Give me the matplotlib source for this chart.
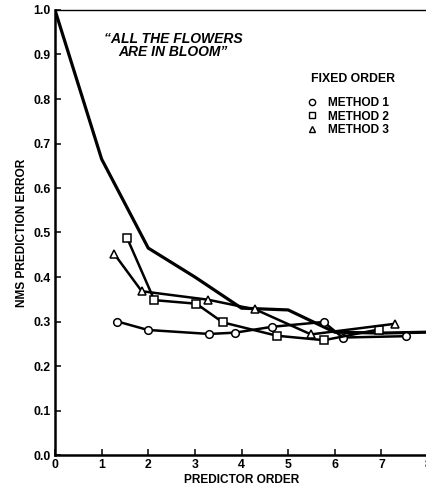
import matplotlib
matplotlib.use("Agg")
import matplotlib.pyplot as plt
from matplotlib.lines import Line2D

plt.rcParams['font.family'] = ['Liberation Sans', 'DejaVu Sans']

# Data
order_fixed = [0, 1, 2, 3, 4, 5, 6, 7, 8]
err_fixed = [1.0, 0.665, 0.465, 0.40, 0.330, 0.326, 0.276, 0.274, 0.276]

m1_x = [1.34, 1.99, 3.31, 3.87, 4.65, 5.76, 6.17, 7.52]
m1_y = [0.300, 0.281, 0.272, 0.275, 0.288, 0.299, 0.264, 0.267]

m2_x = [1.545, 2.13, 3.03, 3.60, 4.76, 5.77, 6.94]
m2_y = [0.488, 0.348, 0.340, 0.298, 0.268, 0.258, 0.282]

m3_x = [1.27, 1.86, 3.28, 4.30, 5.49, 7.30]
m3_y = [0.452, 0.368, 0.349, 0.327, 0.271, 0.295]

xticks = [0, 1, 2, 3, 4, 5, 6, 7, 8]
yticks = [0.0, 0.1, 0.2, 0.3, 0.4, 0.5, 0.6, 0.7, 0.8, 0.9, 1.0]
labels = ["METHOD 1", "METHOD 2", "METHOD 3"]
markers = ["o", "s", "^"]

fig = plt.figure(figsize=(4.26, 4.86), dpi=100)
ax = fig.add_axes([55/426, 31/486, 373/426, 445/486])

ax.plot(order_fixed, err_fixed, color='black', lw=2.3, solid_joinstyle='miter')
for xs, ys, mk in zip([m1_x, m2_x, m3_x], [m1_y, m2_y, m3_y], markers):
    ax.plot(xs, ys, color='black', lw=1.8, marker=mk, markersize=5.5,
            markerfacecolor='white', markeredgecolor='black', markeredgewidth=1.1)

ax.set_xlim(0, 8)
ax.set_ylim(0, 1.0)
ax.set_xticks(xticks)
ax.set_xticklabels([str(t) for t in xticks], fontsize=8.8, fontweight='bold')
ax.set_yticks(yticks)
ax.set_yticklabels([f"{t:.1f}" for t in yticks], fontsize=8.8, fontweight='bold')
ax.tick_params(direction='in', length=4.5, width=1.1, pad=3)
for s in ['left', 'bottom']:
    ax.spines[s].set_linewidth(1.8)
for s in ['top', 'right']:
    ax.spines[s].set_linewidth(1.0)

ax.set_xlabel("PREDICTOR ORDER", fontsize=8.6, fontweight='bold', labelpad=2)
ax.set_ylabel("NMS PREDICTION ERROR", fontsize=8.6, fontweight='bold', labelpad=4)

ax.text(2.53, 0.92, "\u201cALL THE FLOWERS\nARE IN BLOOM\u201d", ha='center', va='center',
        fontsize=10, fontweight='bold', fontstyle='italic', linespacing=0.95)

ax.text(0.685, 0.845, "FIXED ORDER", transform=ax.transAxes, ha='left', va='center',
        fontsize=8.8, fontweight='bold')

handles = [Line2D([], [], linestyle='none', marker=mk, markersize=4.5,
                  markerfacecolor='white', markeredgecolor='black', markeredgewidth=1.0)
           for mk in markers]
leg = ax.legend(handles, labels, loc='upper left',
                bbox_to_anchor=(0.655, 0.823), frameon=False,
                prop={'size': 8.6, 'weight': 'bold'}, handlelength=0.8,
                handletextpad=0.9, labelspacing=0.12, borderpad=0.2)

fig.savefig("out.png", dpi=100)
